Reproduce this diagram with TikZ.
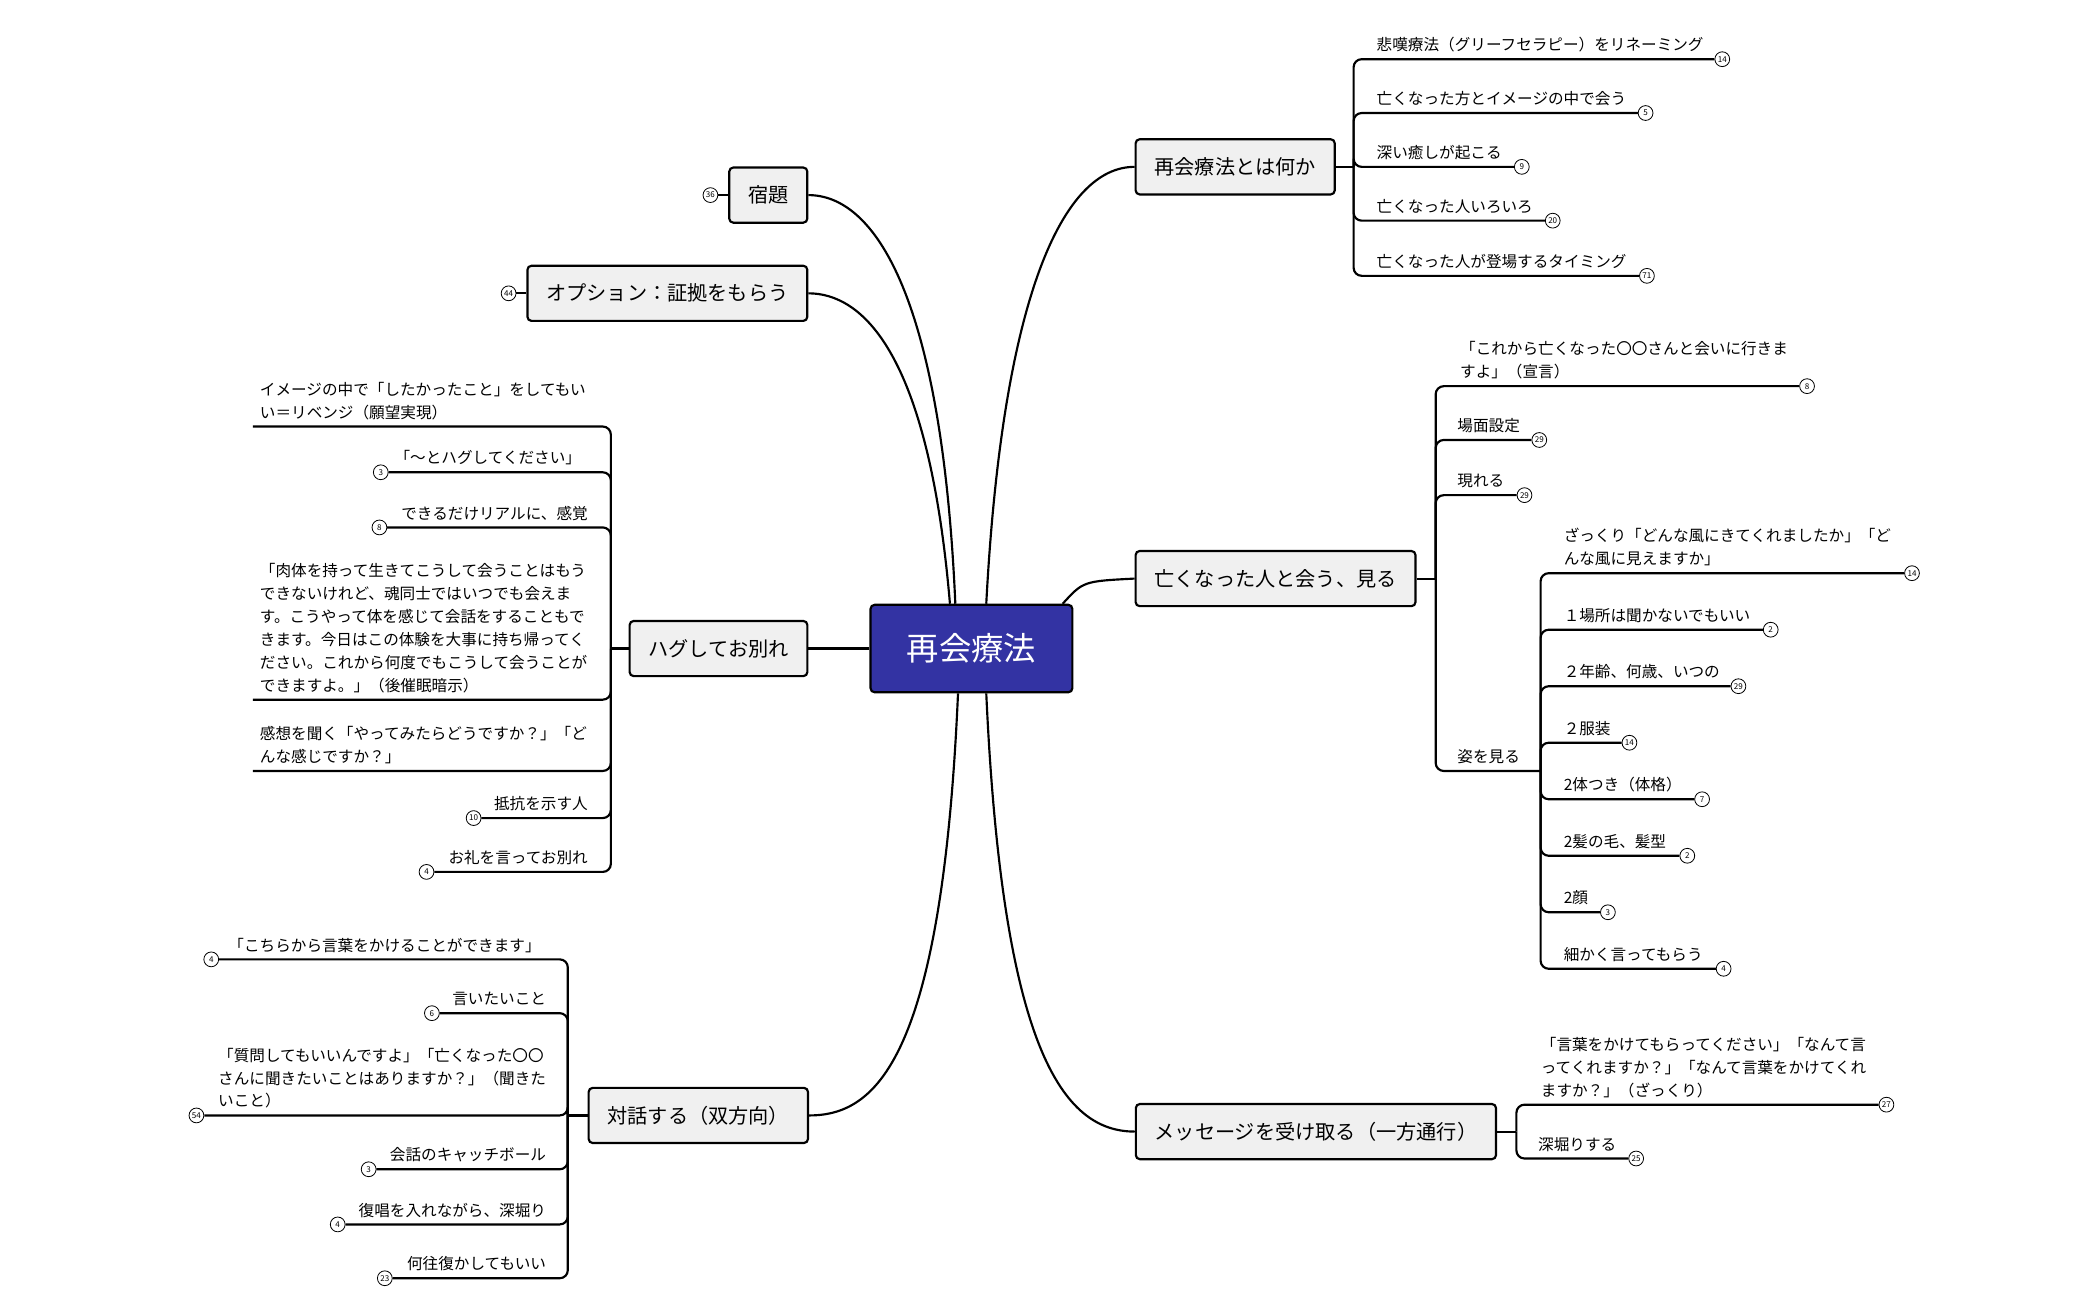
\documentclass[tikz,border=0pt]{standalone}
\usepackage{fontspec}
\setmainfont{Noto Sans CJK JP}
\begin{document}
\begin{tikzpicture}[x=1pt,y=-1pt,
 conn/.style={line width=1.6pt,rounded corners=6pt},
 topic/.style={draw,line width=1.6pt,fill=black!6,rounded corners=3pt,font=\fontsize{15}{18}\selectfont,minimum height=41pt,inner xsep=14pt},
 num/.style={circle,draw,line width=0.6pt,fill=white,minimum size=11pt,inner sep=0pt,font=\fontsize{6}{6}\selectfont},
 lbl/.style={font=\fontsize{11.6}{17}\selectfont,inner sep=0pt}]
\useasboundingbox (0,0) rectangle (1560,966);
\newcommand\RI[7]{\node[num] (#1) at (#5,#3) {#6};
 \node[lbl,anchor=south west,align=left] (#1t) at (#4,#3-5) {#7};
 \draw[conn] (#2) |- (#1.west);}
\newcommand\LI[7]{\node[num] (#1) at (#5,#3) {#6};
 \node[lbl,anchor=south east,align=right] (#1t) at (#4,#3-5) {#7};
 \draw[conn] (#2) |- (#1.east);}
\newcommand\LN[5]{\coordinate (#1) at (188,#3);
 \node[lbl,anchor=south west,align=left] (#1t) at (#4,#3-5) {#5};
 \draw[conn] (#2) |- (#1);}
% center
\node[draw,line width=1.6pt,fill=blue!55!black!80,rounded corners=3pt,text=white,minimum width=150pt,minimum height=65pt,font=\fontsize{24}{28}\selectfont] (c) at (722,482) {再会療法};
% topics
\node[topic] (t1) at (918,124) {再会療法とは何か};
\node[topic] (t2) at (948,430) {亡くなった人と会う、見る};
\node[topic] (t3) at (978,841) {メッセージを受け取る（一方通行）};
\node[topic] (t4) at (571,145) {宿題};
\node[topic] (t5) at (496,218) {オプション：証拠をもらう};
\node[topic] (t6) at (534,482) {ハグしてお別れ};
\node[topic] (t7) at (519,829) {対話する（双方向）};
\node[num] (n36) at (528,145) {36};
\node[num] (n44) at (378,218) {44};
\draw[line width=1.6pt] (n36) -- (t4.west);
\draw[line width=1.6pt] (n44) -- (t5.west);
% main connectors
\draw[line width=1.6pt] ([xshift=11pt]c.north) .. controls (745,220) and (790,124) .. (t1.west);
\draw[line width=1.6pt] ([xshift=-8pt]c.north east) .. controls (805,432) .. (t2.west);
\draw[line width=1.6pt] ([xshift=11pt]c.south) .. controls (745,780) and (790,841) .. (t3.west);
\draw[line width=1.6pt] ([xshift=-12pt]c.north) .. controls (700,220) and (650,145) .. (t4.east);
\draw[line width=1.6pt] ([xshift=-16pt]c.north) .. controls (690,260) and (640,218) .. (t5.east);
\draw[line width=1.6pt] (c.west) -- (t6.east);
\draw[line width=1.6pt] ([xshift=-10pt]c.south) .. controls (700,790) and (650,829) .. (t7.east);
% t1 children
\coordinate (j1) at (1006,124);
\draw[line width=1.6pt] (t1.east) -- (j1);
\RI{a1}{j1}{44}{1023}{1280}{14}{悲嘆療法（グリーフセラピー）をリネーミング}
\RI{a2}{j1}{84}{1023}{1223}{5}{亡くなった方とイメージの中で会う}
\RI{a3}{j1}{124}{1023}{1131}{9}{深い癒しが起こる}
\RI{a4}{j1}{164}{1023}{1154}{20}{亡くなった人いろいろ}
\RI{a5}{j1}{205}{1023}{1224}{71}{亡くなった人が登場するタイミング}
% t2 children
\coordinate (j2) at (1067,430);
\draw[line width=1.6pt] (t2.east) -- (j2);
\RI{b1}{j2}{287}{1085}{1343}{8}{「これから亡くなった〇〇さんと会いに行きま\\すよ」（宣言）}
\RI{b2}{j2}{327}{1083}{1144}{29}{場面設定}
\RI{b3}{j2}{368}{1083}{1133}{29}{現れる}
\coordinate (b4) at (1145,573);
\node[lbl,anchor=south west] (b4t) at (1083,568) {姿を見る};
\draw[conn] (j2) |- (b4);
\RI{s1}{b4}{426}{1162}{1421}{14}{ざっくり「どんな風にきてくれましたか」「ど\\んな風に見えますか」}
\RI{s2}{b4}{468}{1162}{1316}{2}{１場所は聞かないでもいい}
\RI{s3}{b4}{510}{1162}{1292}{29}{２年齢、何歳、いつの}
\RI{s4}{b4}{552}{1162}{1211}{14}{２服装}
\RI{s5}{b4}{594}{1162}{1265}{7}{2体つき（体格）}
\RI{s6}{b4}{636}{1162}{1254}{2}{2髪の毛、髪型}
\RI{s7}{b4}{678}{1162}{1195}{3}{2顔}
\RI{s8}{b4}{720}{1162}{1281}{4}{細かく言ってもらう}
% t3 children
\coordinate (j3) at (1127,841);
\draw[line width=1.6pt] (t3.east) -- (j3);
\RI{m1}{j3}{821}{1145}{1402}{27}{「言葉をかけてもらってください」「なんて言\\ってくれますか？」「なんて言葉をかけてくれ\\ますか？」（ざっくり）}
\RI{m2}{j3}{861}{1143}{1216}{25}{深堀りする}
% t6 children
\coordinate (j6) at (454,482);
\draw[line width=1.6pt] (t6.west) -- (j6);
\LN{h1}{j6}{317}{193}{イメージの中で「したかったこと」をしてもい\\い＝リベンジ（願望実現）}
\LI{h2}{j6}{351}{432}{283}{3}{「〜とハグしてください」}
\LI{h3}{j6}{392}{437}{282}{8}{できるだけリアルに、感覚}
\LN{h4}{j6}{520}{193}{「肉体を持って生きてこうして会うことはもう\\できないけれど、魂同士ではいつでも会えま\\す。こうやって体を感じて会話をすることもで\\きます。今日はこの体験を大事に持ち帰ってく\\ださい。これから何度でもこうして会うことが\\できますよ。」（後催眠暗示）}
\LN{h5}{j6}{573}{193}{感想を聞く「やってみたらどうですか？」「ど\\んな感じですか？」}
\LI{h6}{j6}{608}{437}{352}{10}{抵抗を示す人}
\LI{h7}{j6}{648}{437}{317}{4}{お礼を言ってお別れ}
% t7 children
\coordinate (j7) at (422,829);
\draw[line width=1.6pt] (t7.west) -- (j7);
\LI{d1}{j7}{713}{402}{157}{4}{「こちらから言葉をかけることができます」}
\LI{d2}{j7}{753}{406}{321}{6}{言いたいこと}
\node[num] (d3) at (146,829) {54};
\node[lbl,anchor=south west,align=left] (d3t) at (162,824) {「質問してもいいんですよ」「亡くなった〇〇\\さんに聞きたいことはありますか？」（聞きた\\いこと）};
\draw[conn] (j7) |- (d3.east);
\LI{d4}{j7}{869}{406}{274}{3}{会話のキャッチボール}
\LI{d5}{j7}{910}{406}{251}{4}{復唱を入れながら、深堀り}
\LI{d6}{j7}{950}{406}{286}{23}{何往復かしてもいい}
\end{tikzpicture}
\end{document}
